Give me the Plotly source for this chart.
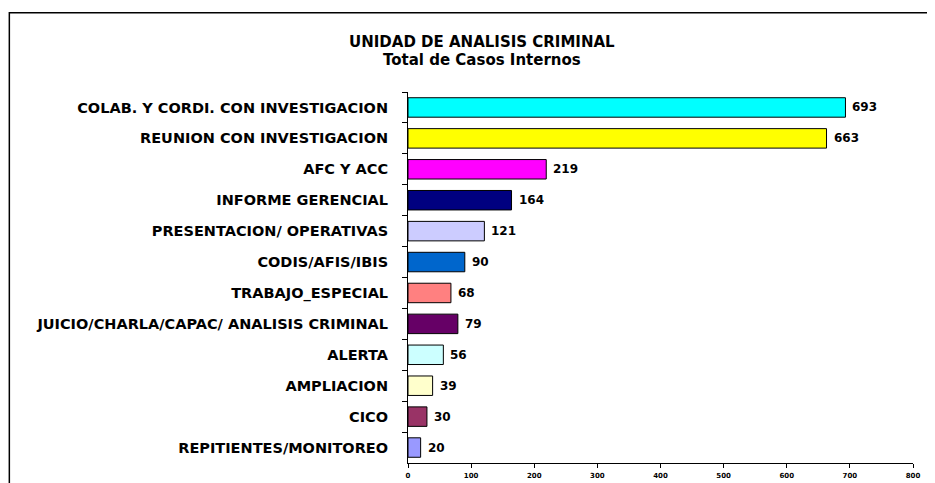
import plotly.graph_objects as go

categories = [
    "COLAB. Y CORDI. CON INVESTIGACION",
    "REUNION CON INVESTIGACION",
    "AFC Y ACC",
    "INFORME GERENCIAL",
    "PRESENTACION/ OPERATIVAS",
    "CODIS/AFIS/IBIS",
    "TRABAJO_ESPECIAL",
    "JUICIO/CHARLA/CAPAC/ ANALISIS CRIMINAL",
    "ALERTA",
    "AMPLIACION",
    "CICO",
    "REPITIENTES/MONITOREO",
]
values = [693, 663, 219, 164, 121, 90, 68, 79, 56, 39, 30, 20]
colors = ["#00FFFF", "#FFFF00", "#FF00FF", "#000080", "#CCCCFF", "#0066CC",
          "#FF8080", "#660066", "#CCFFFF", "#FFFFCC", "#993366", "#9999FF"]
x_ticks = [0, 100, 200, 300, 400, 500, 600, 700, 800]
title_lines = ["UNIDAD DE ANALISIS CRIMINAL", "Total de Casos Internos"]

# page body has an 8px margin, so the figure is sized to fit the window
W, H = 927, 475
L, R, T, B = 399.7, 22, 83.5, 19.5
pw, ph = W - L - R, H - T - B

fig = go.Figure(go.Bar(
    x=values, y=categories, orientation="h",
    marker=dict(color=colors, line=dict(color="black", width=1)),
    width=0.63,
))

for v, c in zip(values, categories):
    fig.add_annotation(x=v, y=c, text=str(v), xanchor="left", xshift=5,
                       showarrow=False,
                       font=dict(family="DejaVu Sans", size=12, color="black", weight="bold"))

fig.update_layout(
    width=W, height=H, margin=dict(l=L, r=R, t=T, b=B, autoexpand=False),
    paper_bgcolor="white", plot_bgcolor="white", showlegend=False,
    font=dict(family="DejaVu Sans", color="black"),
)
fig.update_xaxes(range=[0, 800], tickvals=x_ticks, ticks="outside", ticklen=4,
                 tickcolor="black", showline=True, linecolor="black", linewidth=1,
                 showgrid=False, zeroline=False, ticklabelstandoff=2,
                 tickfont=dict(size=7, weight="bold", family="DejaVu Sans", color="black"))
fig.update_yaxes(categoryorder="array", categoryarray=categories, autorange="reversed",
                 ticks="outside", tickson="boundaries", ticklen=5, tickcolor="black",
                 showline=True, linecolor="black", linewidth=1, showgrid=False,
                 ticklabelstandoff=16,
                 tickfont=dict(size=14.5, weight="bold", family="DejaVu Sans", color="black"))

def px_x(x):
    return (x - L) / pw

def px_y(y):
    return 1 - (y - T) / ph

fig.add_shape(type="rect", xref="paper", yref="paper",
              x0=px_x(0.8), x1=px_x(940), y0=px_y(4), y1=px_y(490),
              line=dict(color="black", width=1.5), fillcolor="rgba(0,0,0,0)")

fig.add_annotation(text="<b>" + title_lines[0] + "</b>", xref="paper", yref="paper",
                   x=px_x(474), y=px_y(33), xanchor="center", yanchor="middle",
                   showarrow=False,
                   font=dict(size=15, family="DejaVu Sans", color="black"))
fig.add_annotation(text="<b>" + title_lines[1] + "</b>", xref="paper", yref="paper",
                   x=px_x(474), y=px_y(51), xanchor="center", yanchor="middle",
                   showarrow=False,
                   font=dict(size=15, family="DejaVu Sans", color="black"))

fig.write_html("out.html")
